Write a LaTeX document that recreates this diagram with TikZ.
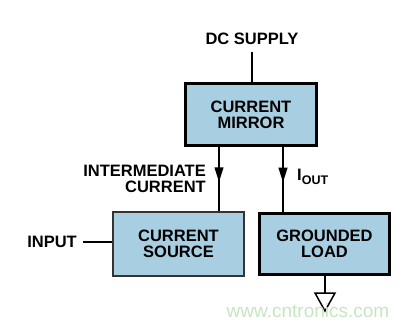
\documentclass[tikz,border=0pt]{standalone}
\usepackage{fontspec}
\setmainfont{Liberation Sans}
\usetikzlibrary{arrows.meta,decorations.markings}
\definecolor{boxblue}{HTML}{A8CEE2}
\definecolor{wmgreen}{HTML}{C6E5C0}
\begin{document}
\begin{tikzpicture}[x=1pt,y=-1pt,
  blk/.style={draw=black,fill=boxblue,align=center,font=\bfseries\fontsize{16.5}{16}\selectfont,inner sep=0pt},
  lbl/.style={font=\bfseries\fontsize{16.5}{16.5}\selectfont,inner sep=0pt},
  wire/.style={line width=2.5pt},
  midarrow/.style={wire,postaction={decorate},decoration={markings,mark=at position #1 with {\arrow{Triangle[length=15pt,width=8.5pt]}}}}
]
\useasboundingbox (0,0) rectangle (410,326);
\node[blk,line width=2.5pt,minimum width=131pt,minimum height=62pt] (mir) at (251,114.5) {CURRENT\\MIRROR};
\node[blk,line width=1.3pt,draw=black!80,minimum width=131pt,minimum height=64pt] (src) at (178.5,244) {CURRENT\\SOURCE};
\node[blk,line width=3pt,minimum width=130pt,minimum height=61pt] (load) at (324.5,244) {GROUNDED\\LOAD};
\node[lbl] (dc) at (252,39) {DC SUPPLY};
\coordinate (dctop) at (252,52);
\draw[wire] (dctop) -- (mir.north -| dctop);
\coordinate (lx) at (219,0);
\coordinate (rx) at (283,0);
\draw[midarrow=0.55] (mir.south -| lx) -- (src.north -| lx);
\draw[midarrow=0.55] (mir.south -| rx) -- (load.north -| rx);
\node[lbl,align=right,anchor=east] (inter) at (206,179) {INTERMEDIATE\\CURRENT};
\node[lbl,anchor=west] (iout) at (297,177) {I\raisebox{-0.45ex}{\fontsize{12.5}{13}\selectfont OUT}};
\node[lbl,anchor=east] (inp) at (77,242) {INPUT};
\draw[wire] (83,242) coordinate (inend) -- (src.west |- inend);
\coordinate (gtop) at (325,293);
\draw[wire] (load.south -| gtop) -- (gtop);
\draw[line width=1.5pt,fill=white] (315,293) -- (335,293) -- (325,311) -- cycle;
\node[text=wmgreen,font=\fontsize{19}{20}\selectfont,inner sep=0pt] (wm) at (308,311) {www.cntronics.com};
\end{tikzpicture}
\end{document}
